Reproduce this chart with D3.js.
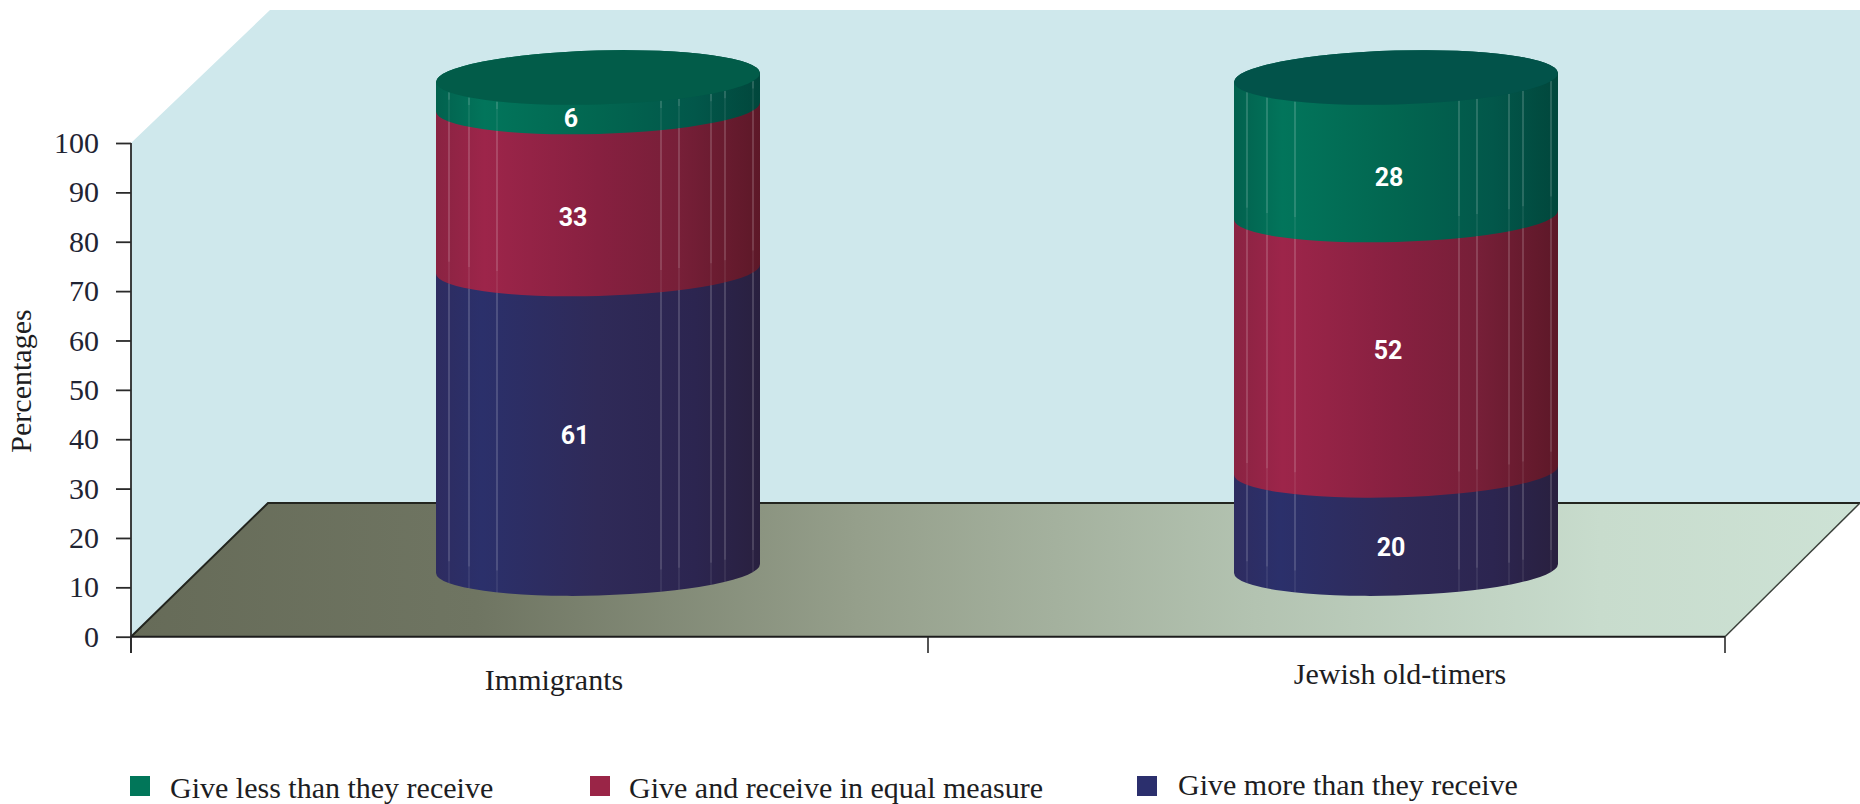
<!DOCTYPE html>
<html><head><meta charset="utf-8">
<style>html,body{margin:0;background:#fff}svg{display:block}text{font-family:"Liberation Serif",serif;fill:#1d1d22}</style>
<script src="https://cdnjs.cloudflare.com/ajax/libs/d3/7.8.5/d3.min.js"></script>
</head><body><div id="c"></div>
<script>
const categories = ["Immigrants", "Jewish old-timers"];
const seriesNames = ["Give more than they receive", "Give and receive in equal measure", "Give less than they receive"];
const giveMore = [61, 20];
const giveEqual = [33, 52];
const giveLess = [6, 28];
const yTicks = [0,10,20,30,40,50,60,70,80,90,100];
const yTitle = "Percentages";

const W=1860,H=804;
const svg=d3.select("#c").append("svg").attr("width",W).attr("height",H);
const defs=svg.append("defs");
const y=d3.scaleLinear().domain([0,100]).range([636.7,143]);
const yCyl=d3.scaleLinear().domain([0,100]).range([568.5,77.5]);
const x=d3.scaleLinear().domain([0,2]).range([131,1725]);
const cx=[598,1396], rx=162, ry=27, rot=-1.6, tilt=4.5;

const grads={
 more:[[0,"#2e2c60"],[.14,"#2b306b"],[.5,"#2f2a58"],[.8,"#2c2550"],[1,"#29203f"]],
 equal:[[0,"#8a2342"],[.15,"#9d254a"],[.5,"#872040"],[.75,"#771f38"],[1,"#5d1828"]],
 less:[[0,"#02614e"],[.15,"#02755b"],[.5,"#026650"],[.8,"#02574a"],[1,"#01473c"]],
 floor:[[0,"#666b58"],[.2,"#6f7562"],[.42,"#959f8b"],[.65,"#b3c3b1"],[.85,"#c8dccd"],[1,"#cde2d5"]]
};
const gradFor=n=>{const g=defs.append("linearGradient").attr("id",n).attr("x1",0).attr("x2",1).attr("y1",0).attr("y2",0);
 grads[n].forEach(s=>g.append("stop").attr("offset",s[0]).attr("stop-color",s[1]));};
Object.keys(grads).forEach(gradFor);

// wall + floor
svg.append("path").attr("d",d3.line()([[x(0),y(0)],[x(0),y(100)],[270,10],[W,10],[W,503],[268,503]])).attr("fill","#cfe8ec");
svg.append("path").attr("d",d3.line()([[x(0),y(0)],[268,503],[W,503],[x(2),y(0)]])+"Z").attr("fill","url(#floor)");
svg.append("path").attr("d",d3.line()([[x(0),y(0)],[268,503],[W,503]])).attr("fill","none").attr("stroke","#23251f").attr("stroke-width",2);
svg.append("path").attr("d",d3.line()([[x(2),y(0)],[W,503]])).attr("fill","none").attr("stroke","#3a403a").attr("stroke-width",1.5);

// cylinders
const stacks=d3.stack().keys([0,1,2]).value((d,k)=>d[k])(categories.map((c,i)=>[giveMore[i],giveEqual[i],giveLess[i]]));
const fills=["more","equal","less"];
const facetOffsets=[13,33,61,225,243,275,289,317];
const front=(v,ox)=>{const t=(ox-rx)/rx;return yCyl(v)-t*tilt+ry*Math.sqrt(Math.max(0,1-t*t));};
const topFill=["#025c49","#02534a"];
categories.forEach((cat,i)=>{
 const c=cx[i],g=svg.append("g");
 const lx=c-rx,rxx=c+rx;
 stacks.forEach((s,k)=>{
  const v0=s[i][0],v1=s[i][1];
  const d=`M${lx},${yCyl(v0)+tilt}A${rx},${ry} ${rot} 0 0 ${rxx},${yCyl(v0)-tilt}L${rxx},${yCyl(v1)-tilt}A${rx},${ry} ${rot} 0 0 ${lx},${yCyl(v1)+tilt}Z`;
  g.append("path").attr("d",d).attr("fill",`url(#${fills[k]})`);
 });
 stacks.forEach((s,k)=>{
  const v0=s[i][0],v1=s[i][1];
  facetOffsets.forEach(o=>{
   const a=front(v1,o),b=front(v0,o),m=Math.max(a,b-22);
   g.append("line").attr("x1",lx+o).attr("x2",lx+o).attr("y1",a).attr("y2",m).attr("stroke","#fff").attr("stroke-opacity",.27).attr("stroke-width",1.2);
   g.append("line").attr("x1",lx+o).attr("x2",lx+o).attr("y1",m).attr("y2",b).attr("stroke","#fff").attr("stroke-opacity",.12).attr("stroke-width",1.2);
  });
 });
 g.append("ellipse").attr("cx",c).attr("cy",yCyl(100)).attr("rx",rx).attr("ry",ry).attr("transform",`rotate(${rot} ${c} ${yCyl(100)})`).attr("fill",topFill[i]);
});

// value labels (nudges follow the reference's slightly irregular placement)
const nudgeX=[[-23,-25,-27],[-5,-8,-7]], nudgeY=[[12,25,22],[23,3,27]];
categories.forEach((cat,i)=>stacks.forEach((s,k)=>{
 const v=s[i][1]-s[i][0],m=(s[i][0]+s[i][1])/2;
 svg.append("text").attr("x",cx[i]+nudgeX[i][k]).attr("y",yCyl(m)+4.5+nudgeY[i][k]).attr("dy","0.35em").attr("text-anchor","middle")
  .style("font-family","Roboto,sans-serif").style("font-weight",700).style("font-size","25px").style("fill","#fff").text(v);
}));

// axes
const yAxis=d3.axisLeft(y).tickValues(yTicks).tickSize(15).tickPadding(17).tickFormat(d3.format("d"));
const ga=svg.append("g").attr("transform",`translate(${x(0)},0)`).call(yAxis);
ga.select(".domain").remove();
ga.selectAll("line").attr("stroke","#2a2a2a").attr("stroke-width",1.8);
ga.selectAll("text").style("font-size","30px").style("fill","#1f2433");
svg.append("line").attr("x1",x(0)).attr("x2",x(0)).attr("y1",y(100)).attr("y2",653).attr("stroke","#2a2a2a").attr("stroke-width",1.8);
svg.append("line").attr("x1",x(0)).attr("x2",x(2)).attr("y1",y(0)).attr("y2",y(0)).attr("stroke","#1c1c1c").attr("stroke-width",2);
[0,1,2].forEach(t=>svg.append("line").attr("x1",x(t)).attr("x2",x(t)).attr("y1",y(0)).attr("y2",653).attr("stroke","#2a2a2a").attr("stroke-width",1.6));

svg.append("text").attr("transform","translate(21,381) rotate(-90)").attr("text-anchor","middle").attr("dy","0.33em").style("font-size","30px").text(yTitle);
const catPos=[[554,680],[1400,674]];
categories.forEach((c,i)=>svg.append("text").attr("x",catPos[i][0]).attr("y",catPos[i][1]).attr("dy","0.33em").attr("text-anchor","middle").style("font-size","30px").text(c));

// legend
const legend=[[2,130,170,788,"#017659"],[1,590,629,788,"#9a2547"],[0,1137,1178,785,"#2b2f6d"]];
legend.forEach(l=>{
 svg.append("rect").attr("x",l[1]).attr("y",776).attr("width",20).attr("height",20).attr("fill",l[4]);
 svg.append("text").attr("x",l[2]).attr("y",l[3]).attr("dy","0.33em").style("font-size","30px").text(seriesNames[l[0]]);
});
</script></body></html>
